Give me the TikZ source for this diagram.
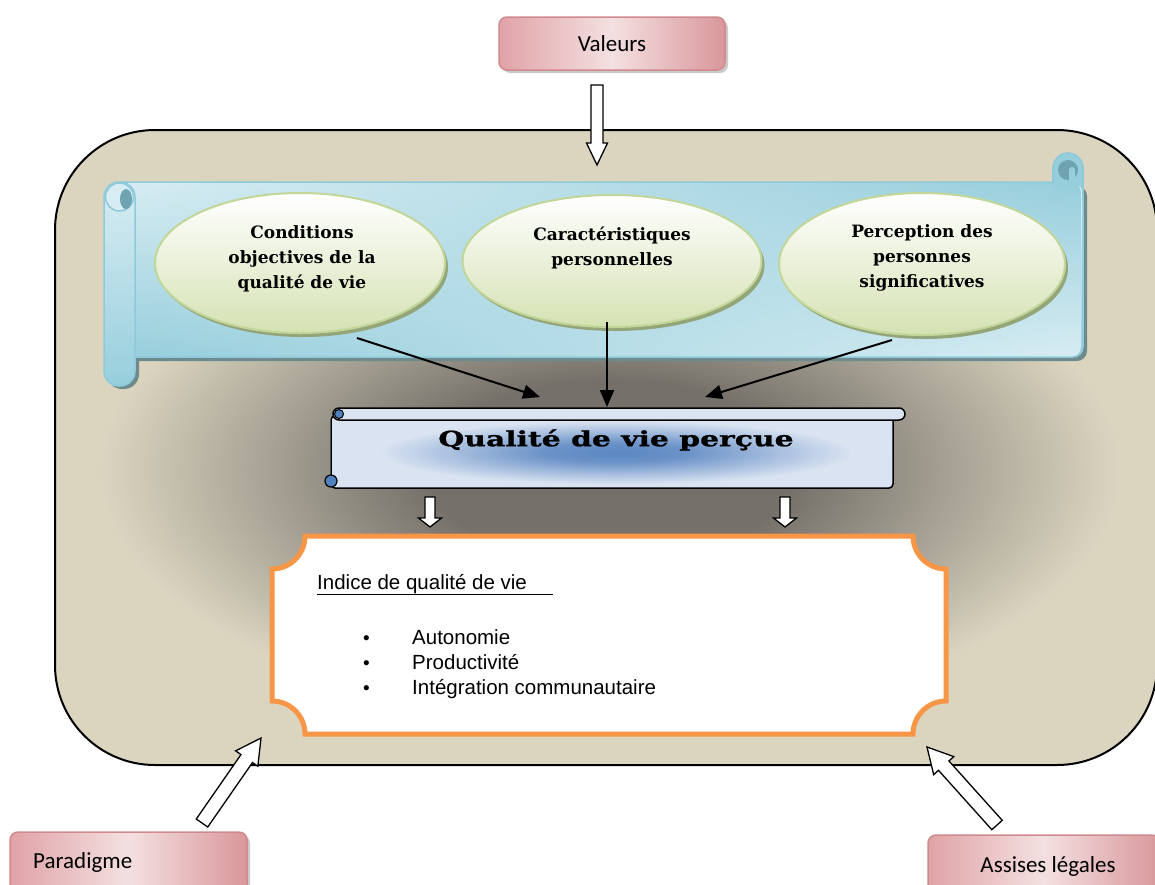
\documentclass[tikz,border=0pt]{standalone}
\usepackage{fontspec}
\usetikzlibrary{calc,shapes.geometric,fadings,shadows,arrows.meta}
\newfontfamily\calib{Carlito}
\newfontfamily\arialf{Liberation Sans}
\newfontfamily\schoolb{DejaVu Serif}
\newfontfamily\widebold{DejaVu Serif}[FakeStretch=1.42,FakeBold=1.2]
\definecolor{bgbeige}{HTML}{DBD5C0}
\definecolor{bgdark}{HTML}{75716A}
\definecolor{scrA}{HTML}{D8EDF3}
\definecolor{scrB}{HTML}{96CEDC}
\definecolor{scrborder}{HTML}{8ECADA}
\definecolor{scrdark}{HTML}{6FA3B1}
\definecolor{scrshadow}{HTML}{6E8A8C}
\definecolor{ellTop}{HTML}{FFFFFF}
\definecolor{ellBot}{HTML}{D5E2B3}
\definecolor{ellBorder}{HTML}{C2D69A}
\definecolor{ellShadow}{HTML}{95A57A}
\definecolor{qlight}{HTML}{D9E3F1}
\definecolor{qblue}{HTML}{4F81BD}
\definecolor{qglow}{HTML}{5A86C2}
\definecolor{orangeb}{HTML}{F79646}
\definecolor{pinkA}{HTML}{E0A3A7}
\definecolor{pinkMid}{HTML}{F4E0E1}
\definecolor{pinkB}{HTML}{D9979B}
\definecolor{pinkBorder}{HTML}{D0898D}
\pgfdeclareradialshading{bgshade}{\pgfpoint{0bp}{0bp}}{color(0bp)=(bgdark); color(9bp)=(bgdark); color(25bp)=(bgbeige); color(50bp)=(bgbeige)}
\pgfdeclareradialshading{glowshade}{\pgfpoint{0bp}{0bp}}{color(0bp)=(qglow); color(8bp)=(qglow!85!qlight); color(25bp)=(qlight); color(50bp)=(qlight)}
\tikzfading[name=fadeleft, left color=transparent!100, right color=transparent!0]
\newcommand\blockarrow[5]{%
  \coordinate (hb) at ($(#2)!#5!(#1)$);
  \draw[blockstyle] ($(#1)!#3!90:(#2)$) -- ($(hb)!#3!90:(#2)$) -- ($(hb)!#4!90:(#2)$) -- (#2)
    -- ($(hb)!#4!-90:(#2)$) -- ($(hb)!#3!-90:(#2)$) -- ($(#1)!#3!-90:(#2)$) -- cycle;
}
\begin{document}
\begin{tikzpicture}[x=1pt,y=-1pt,
  blockstyle/.style={draw=black, fill=white, line width=1.3pt, line join=miter},
  conn/.style={draw=black, line width=2pt, -{Triangle[length=17pt,width=14pt]}},
  ellnode/.style={ellipse, draw=ellBorder, line width=2pt, top color=ellTop, bottom color=ellBot,
    drop shadow={shadow xshift=3pt, shadow yshift=-4pt, fill=ellShadow, opacity=1}},
  elltext/.style={align=center, font=\schoolb\bfseries\fontsize{17}{25}\selectfont},
  pinkbox/.style={draw=pinkBorder, line width=1.5pt, rounded corners=8pt,
    left color=pinkA, right color=pinkB, middle color=pinkMid,
    drop shadow={shadow xshift=3pt, shadow yshift=-3pt, fill=black!35, opacity=0.6}},
  pinktext/.style={font=\calib\fontsize{23}{28}\selectfont},
  listtext/.style={font=\arialf\fontsize{20.5}{25}\selectfont, anchor=base west, inner sep=0pt},
  bullettext/.style={font=\arialf\fontsize{19}{25}\selectfont, anchor=base west, inner sep=0pt}]
\useasboundingbox (0,0) rectangle (1155,884);

% ---- background frame
\begin{scope}
  \clip[rounded corners=100pt] (55,130) rectangle (1157,765);
  \fill[bgbeige] (0,0) rectangle (1155,884);
  \shade[shading=bgshade] (100,220) rectangle (1120,720);
\end{scope}
\draw[line width=2pt, rounded corners=100pt] (55,130) rectangle (1157,765);

% ---- Valeurs
\node[pinkbox, minimum width=226pt, minimum height=53pt, inner sep=0pt] (val) at (612,43.5) {};
\node[pinktext] (valt) at (612,44) {Valeurs};
\coordinate (vtail) at (597,85);
\coordinate (vtip) at (597,165);
\blockarrow{vtail}{vtip}{6pt}{10.5pt}{22pt}

% ---- blue scroll
\fill[scrshadow, rounded corners=10pt] (107,186) rectangle (1087,361);
\fill[scrshadow, rounded corners=15pt] (107,186) rectangle (139,389);
\shade[top color=scrA, bottom color=scrB, rounded corners=10pt] (110,182) rectangle (1083,357);
\shade[path fading=fadeleft, top color=scrB, bottom color=scrA, rounded corners=10pt] (110,182) rectangle (1083,357);
\draw[scrborder, line width=1.5pt, rounded corners=10pt] (110,182) rectangle (1083,357);
% right roll
\fill[scrB] (1053,168) rectangle (1083,186);
\filldraw[fill=scrB, draw=scrborder, line width=1.5pt] (1068,168) circle[radius=15pt];
\fill[scrB] (1054.5,168) rectangle (1081.5,186);
\draw[scrborder, line width=1.5pt] (1053,168) -- (1053,182);
\draw[scrborder, line width=1.5pt] (1083,168) -- (1083,200);
\fill[scrdark] (1068,170) circle[radius=10pt];
\fill[scrB] (1072,170) circle[radius=3pt];
\fill[scrB] (1069,170) rectangle (1075,183);
% left roll
\shade[top color=scrA, bottom color=scrB, rounded corners=15pt] (104,182) rectangle (135,386);
\draw[scrborder, line width=1.5pt, rounded corners=15pt] (104,182) rectangle (135,386);
\filldraw[fill=scrA, draw=scrborder, line width=1.5pt] (119.5,197) circle[radius=14pt];
\fill[scrdark] (126,199) ellipse[x radius=6pt, y radius=10pt];

% ---- ellipses
\node[ellnode, minimum width=290pt, minimum height=140pt] (e1) at (300,263) {};
\node[ellnode, minimum width=299pt, minimum height=132pt] (e2) at (612,261) {};
\node[ellnode, minimum width=286pt, minimum height=142pt] (e3) at (922,264) {};
\node[elltext] (t1) at (302,259) {Conditions\\objectives de la\\qualité de vie};
\node[elltext] (t2) at (612,248) {Caractéristiques\\personnelles};
\node[elltext] (t3) at (922,258) {Perception des\\personnes\\significatives};

% ---- Qualité de vie perçue
\fill[qlight, rounded corners=4pt] (330,416) rectangle (893,488);
\shade[shading=glowshade] (380,421) rectangle (852,484);
\draw[line width=1.5pt, rounded corners=4pt] (331,482) -- (331,416) -- (893,416) -- (893,488) -- (331,488) -- cycle;
\filldraw[fill=qlight, draw=black, line width=1.5pt, rounded corners=6pt] (333,408) rectangle (905,420);
\filldraw[fill=qblue, draw=black, line width=1pt] (339,414) circle[radius=4.5pt];
\filldraw[fill=qblue, draw=black, line width=1.2pt] (331,481) circle[radius=6pt];
\node[font=\widebold\bfseries\fontsize{21}{25}\selectfont] (q) at (616,440) {Qualité de vie perçue};

% ---- connectors to Qualité
\coordinate (a1s) at (357,338);
\coordinate (a1e) at (540,397);
\coordinate (a2s) at (607,322);
\coordinate (a2e) at (607,407);
\coordinate (a3s) at (892,340);
\coordinate (a3e) at (705,397);
\draw[conn] (a1s) -- (a1e);
\draw[conn] (a2s) -- (a2e);
\draw[conn] (a3s) -- (a3e);

% ---- small down arrows
\coordinate (d1t) at (430,497);
\coordinate (d1h) at (430,527);
\coordinate (d2t) at (785,497);
\coordinate (d2h) at (785,527);
\blockarrow{d1t}{d1h}{5pt}{11.5pt}{9pt}
\blockarrow{d2t}{d2h}{5pt}{11.5pt}{9pt}

% ---- orange plaque
\draw[orangeb, fill=white, line width=5pt]
  (305,536) -- (913,536) .. controls (913,554.2) and (927.8,569) .. (946,569)
  -- (946,701) .. controls (927.8,701) and (913,715.8) .. (913,734)
  -- (305,734) .. controls (305,715.8) and (290.2,701) .. (272,701)
  -- (272,569) .. controls (290.2,569) and (305,554.2) .. cycle;
\node[listtext] (idx) at (317,589) {\underline{Indice de qualité de vie\hspace{26pt}}};
\node[bullettext] (b1) at (363,644) {•};
\node[bullettext] (b2) at (363,669) {•};
\node[bullettext] (b3) at (363,694) {•};
\node[listtext] (l1) at (412,644) {Autonomie};
\node[listtext] (l2) at (412,669) {Productivité};
\node[listtext] (l3) at (412,694) {Intégration communautaire};

% ---- bottom boxes
\node[pinkbox, minimum width=237pt, minimum height=60pt, inner sep=0pt] (par) at (128.5,862) {};
\node[pinktext, anchor=base west, inner sep=0pt] (part) at (33,868) {Paradigme};
\node[pinkbox, minimum width=232pt, minimum height=60pt, inner sep=0pt] (ass) at (1044,865) {};
\node[pinktext, anchor=base, inner sep=0pt] (asst) at (1048,872) {Assises légales};

\coordinate (ptail) at (202,823);
\coordinate (ptip) at (261,738);
\blockarrow{ptail}{ptip}{7pt}{13.5pt}{25pt}
\coordinate (atail) at (997,825);
\coordinate (atip) at (927,747);
\blockarrow{atail}{atip}{7pt}{13.5pt}{25pt}
\end{tikzpicture}
\end{document}
